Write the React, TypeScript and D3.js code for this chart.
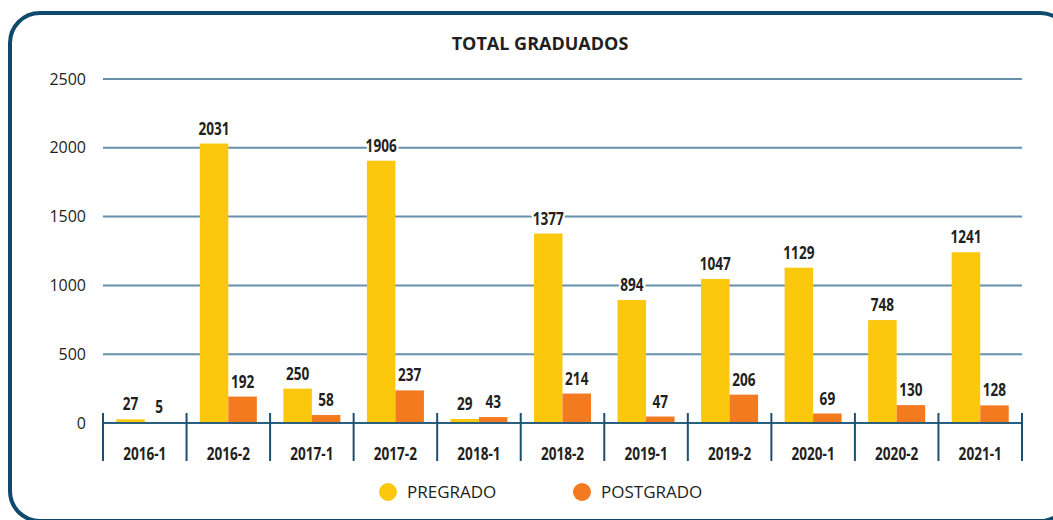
import React from 'react';
import * as d3 from 'd3';

const width = 1053;
const height = 520;
const margin = { top: 79, right: 31, bottom: 97, left: 103 };

const periods = ['2016-1', '2016-2', '2017-1', '2017-2', '2018-1', '2018-2', '2019-1', '2019-2', '2020-1', '2020-2', '2021-1'];
const pregrado = [27, 2031, 250, 1906, 29, 1377, 894, 1047, 1129, 748, 1241];
const postgrado = [5, 192, 58, 237, 43, 214, 47, 206, 69, 130, 128];
const seriesNames = ['PREGRADO', 'POSTGRADO'];
const seriesColors = ['#FCC80E', '#F47A20'];
const yTicks = [0, 500, 1000, 1500, 2000, 2500];

const font = "'Open Sans', 'Noto Sans', sans-serif";
const textColor = '#231f20';

// narrow bold label, squeezed horizontally to look like a condensed face
const Narrow = ({ x, y, size, children, halo }: { x: number; y: number; size: number; children: React.ReactNode; halo?: boolean }) => (
    <g transform={`translate(${x},${y}) scale(0.8,1)`}>
        <text
            textAnchor="middle"
            fontFamily={font}
            fontWeight={700}
            fontSize={size}
            fill={textColor}
            stroke={halo ? 'white' : 'none'}
            strokeWidth={halo ? 5 : 0}
            paintOrder="stroke"
        >
            {children}
        </text>
    </g>
);

export default function App() {
    const x0 = d3.scaleBand().domain(periods).range([margin.left, width - margin.right]).padding(0);
    const x1 = d3.scaleBand().domain(seriesNames).range([0, x0.bandwidth()]).paddingInner(0).paddingOuter(0.465);
    const y = d3.scaleLinear().domain([0, 2500]).range([height - margin.bottom, margin.top]);

    const rows = periods.map((p, i) => ({ period: p, values: [pregrado[i], postgrado[i]] }));
    const boundaries = periods.map(p => x0(p) as number).concat([width - margin.right]);
    const baseY = y(0);

    return (
        <svg width={width} height={height} style={{ position: 'absolute', left: 0, top: 0, display: 'block' }}>
            <rect x={10} y={13} width={1060} height={508} rx={30} fill="white" stroke="#0e4a6d" strokeWidth={4} />

            <text x={540} y={50} textAnchor="middle" fontFamily={font} fontWeight={700} fontSize={18} fill={textColor}>
                TOTAL GRADUADOS
            </text>

            {/* grid + y labels */}
            {yTicks.map(t => (
                <g key={t}>
                    {t > 0 && (
                        <line x1={margin.left} x2={width - margin.right} y1={y(t)} y2={y(t)} stroke="#6690ab" strokeWidth={2} />
                    )}
                    <text x={86} y={y(t)} dy="0.35em" textAnchor="end" fontFamily={font} fontSize={16} fill={textColor}>
                        {t}
                    </text>
                </g>
            ))}

            {/* bars */}
            {rows.map(r => (
                <g key={r.period} transform={`translate(${x0(r.period)},0)`}>
                    {r.values.map((v, j) => (
                        <rect
                            key={j}
                            x={x1(seriesNames[j])}
                            y={y(v)}
                            width={x1.bandwidth()}
                            height={baseY - y(v)}
                            fill={seriesColors[j]}
                        />
                    ))}
                </g>
            ))}

            {/* x axis */}
            <line x1={margin.left} x2={width - margin.right} y1={baseY} y2={baseY} stroke="#2b5f80" strokeWidth={2} />
            {boundaries.map((bx, i) => (
                <line key={i} x1={bx} x2={bx} y1={baseY - 10} y2={baseY + 38} stroke="#1d4f70" strokeWidth={2} />
            ))}
            {periods.map(p => (
                <Narrow key={p} x={(x0(p) as number) + x0.bandwidth() / 2} y={460} size={17}>{p}</Narrow>
            ))}

            {/* value labels */}
            {rows.map(r => r.values.map((v, j) => (
                <Narrow
                    key={r.period + j}
                    x={(x0(r.period) as number) + (x1(seriesNames[j]) as number) + x1.bandwidth() / 2}
                    y={y(v) - 9}
                    size={17}
                    halo
                >
                    {v}
                </Narrow>
            )))}

            {/* legend */}
            {seriesNames.map((s, i) => (
                <g key={s} transform={`translate(${388 + i * 194},492)`}>
                    <circle r={9} fill={seriesColors[i]} />
                    <text x={19} dy="0.35em" fontFamily={font} fontSize={17} fill={textColor}>{s}</text>
                </g>
            ))}
        </svg>
    );
}
